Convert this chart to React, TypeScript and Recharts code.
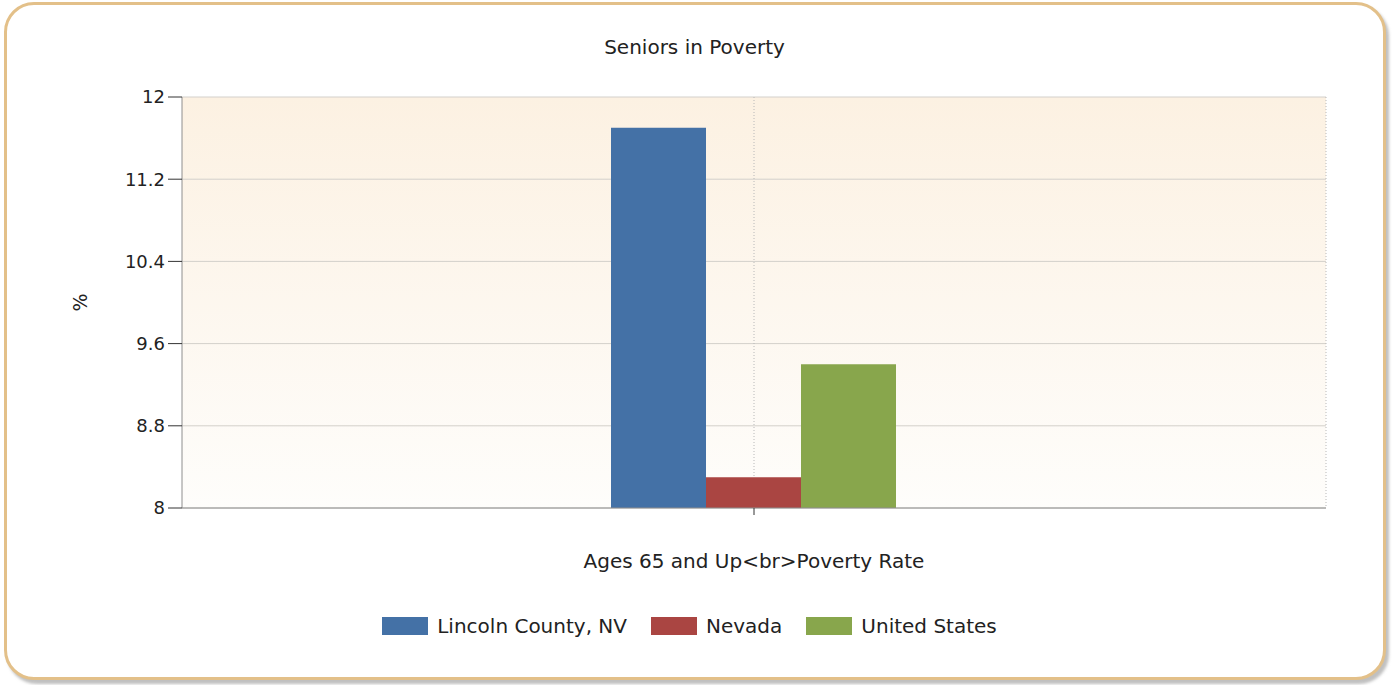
import React from 'react';
import { BarChart, Bar, XAxis, YAxis, CartesianGrid } from 'recharts';

const categories = ['Ages 65 and Up<br>Poverty Rate'];
const seriesNames = ['Lincoln County, NV', 'Nevada', 'United States'];
const seriesColors = ['#4471a6', '#aa4542', '#88a64c'];
const lincolnCounty = [11.7];
const nevada = [8.3];
const unitedStates = [9.4];
const yTicks = [8, 8.8, 9.6, 10.4, 11.2, 12];

const seriesValues = [lincolnCounty, nevada, unitedStates];
const data = categories.map((name, i) => {
  const row: Record<string, string | number> = { name };
  seriesNames.forEach((s, j) => {
    row[s] = seriesValues[j][i];
  });
  return row;
});

const font = '"DejaVu Sans", Verdana, sans-serif';
const W = 1393;
const H = 685;

const YLabel = ({ viewBox }: any) => {
  const x = viewBox.x + 20;
  const y = viewBox.y + viewBox.height / 2;
  return (
    <text x={x} y={y} transform={`rotate(-90 ${x} ${y})`} textAnchor="middle" dominantBaseline="central" fill="#222" fontSize={19} fontFamily={font}>
      %
    </text>
  );
};

export default function App() {
  return (
    <div style={{ position: 'absolute', left: 0, top: 0, width: W, height: H, background: '#fff', fontFamily: font }}>
      <div
        style={{
          position: 'absolute',
          left: 4,
          top: 2,
          width: 1376,
          height: 672,
          border: '3px solid #e3c089',
          borderRadius: 30,
          boxShadow: '3px 4px 3px rgba(150,150,150,0.6)',
          background: '#fff',
        }}
      />
      <div style={{ position: 'absolute', left: 0, width: W - 4, top: 35, textAlign: 'center', fontSize: 20, color: '#222' }}>
        Seniors in Poverty
      </div>
      <div style={{ position: 'absolute', left: 0, top: 0 }}>
        <BarChart
          width={W}
          height={H}
          data={data}
          margin={{ top: 97, right: 67, bottom: 117, left: 60 }}
          barCategoryGap="37.5%"
          barGap={0}
        >
          <defs>
            <linearGradient id="plotBg" x1="0" y1="0" x2="0" y2="1">
              <stop offset="0%" stopColor="#fcf1e2" />
              <stop offset="100%" stopColor="#fefdfb" />
            </linearGradient>
          </defs>
          <CartesianGrid horizontal vertical={false} stroke="#d3d0cb" fill="url(#plotBg)" />
          <CartesianGrid
            horizontal={false}
            vertical
            stroke="#b8b8b8"
            strokeDasharray="1 2"
            verticalCoordinatesGenerator={({ offset }: any) => [offset.left + offset.width / 2, offset.left + offset.width]}
          />
          <XAxis
            dataKey="name"
            height={60}
            stroke="#8e8e8e"
            tickSize={7}
            tickLine={{ stroke: '#333' }}
            tickFormatter={() => ''}
            label={{ value: categories[0], position: 'insideBottom', offset: 0, fill: '#222', fontSize: 20, fontFamily: font }}
          />
          <YAxis
            domain={[8, 12]}
            ticks={yTicks}
            width={122}
            stroke="#8e8e8e"
            tickSize={14}
            tickMargin={3}
            tickLine={{ stroke: '#333' }}
            tick={{ fill: '#222', fontSize: 18, fontFamily: font }}
            label={<YLabel />}
          />
          {seriesNames.map((s, i) => (
            <Bar key={s} dataKey={s} fill={seriesColors[i]} isAnimationActive={false} />
          ))}
        </BarChart>
      </div>
      <div
        style={{
          position: 'absolute',
          left: 0,
          width: W - 14,
          top: 617,
          display: 'flex',
          justifyContent: 'center',
          gap: 24,
          fontSize: 20,
          color: '#222',
        }}
      >
        {seriesNames.map((s, i) => (
          <div key={s} style={{ display: 'flex', alignItems: 'center', gap: 9 }}>
            <span style={{ display: 'inline-block', width: 46, height: 18, background: seriesColors[i] }} />
            <span style={{ lineHeight: '18px' }}>{s}</span>
          </div>
        ))}
      </div>
    </div>
  );
}
